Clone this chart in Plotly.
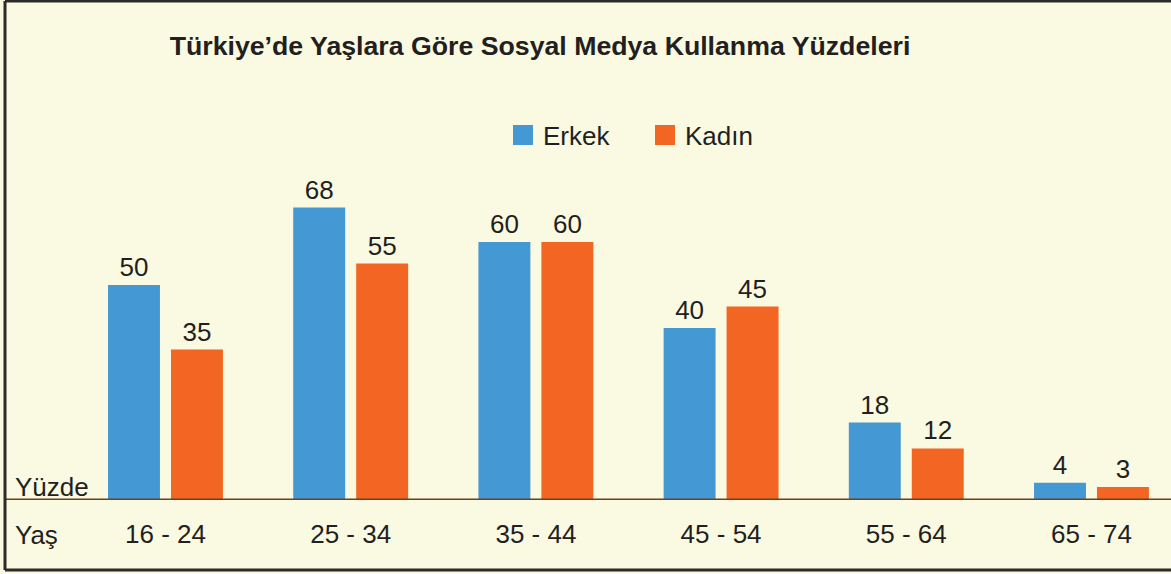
import plotly.graph_objects as go

categories = ["16 - 24", "25 - 34", "35 - 44", "45 - 54", "55 - 64", "65 - 74"]
erkek = [50, 68, 60, 40, 18, 4]
kadin = [35, 55, 60, 45, 12, 3]
series_names = ["Erkek", "Kadın"]
title_text = "Türkiye’de Yaşlara Göre Sosyal Medya Kullanma Yüzdeleri"

BLUE = "#4499D5"
ORANGE = "#F26522"
BG = "#FAF9E1"
TXT = "#231F20"
FONT = "Liberation Sans, Arial, Helvetica, sans-serif"

fig = go.Figure()
for name, vals, col in [(series_names[0], erkek, BLUE), (series_names[1], kadin, ORANGE)]:
    fig.add_trace(go.Bar(
        x=categories, y=vals, name=name, marker=dict(color=col, line=dict(width=0)),
        text=[str(v) for v in vals], textposition="outside", cliponaxis=False,
        textfont=dict(size=26, color=TXT, family=FONT),
        showlegend=False, legendgroup=name, hoverinfo="skip",
    ))
# legend entries (larger square swatches)
for name, col in [(series_names[0], BLUE), (series_names[1], ORANGE)]:
    fig.add_trace(go.Scatter(
        x=[None], y=[None], mode="markers", name=name, legendgroup=name,
        marker=dict(symbol="square", size=16, color=col, line=dict(color=col, width=4)),
    ))

W, H = 1171, 574
ml, mr, mt, mb = 10, 6, 10, 74
pw, ph = W - ml - mr, H - mt - mb

def px(x):
    return (x - ml) / pw

def py(y):
    return (H - mb - y) / ph

fig.update_layout(
    width=W, height=H,
    margin=dict(l=ml, r=mr, t=mt, b=mb),
    paper_bgcolor=BG, plot_bgcolor=BG,
    font=dict(family=FONT, color=TXT, size=26),
    barmode="group", bargap=0.32, bargroupgap=0.175,
    title=dict(text="<b>" + title_text + "</b>", x=px(540), xref="paper", xanchor="center",
               y=1 - 46 / H, yref="container", yanchor="middle",
               font=dict(size=26.7, color=TXT, family=FONT)),
    legend=dict(orientation="h", x=px(503), xanchor="left", y=py(135), yanchor="middle",
                bgcolor="rgba(0,0,0,0)", font=dict(size=26, color=TXT, family=FONT),
                entrywidth=97, itemsizing="trace"),
    xaxis=dict(type="category", range=[-0.8396, 5.397], showline=False, showgrid=False,
               zeroline=False, ticks="", ticklabelstandoff=16,
               tickfont=dict(size=26, color=TXT, family=FONT)),
    yaxis=dict(range=[0, ph / 4.3], visible=False, showgrid=False, zeroline=False),
    showlegend=True,
)

# baseline
fig.add_shape(type="line", xref="paper", yref="y", x0=px(5), x1=px(1180), y0=0, y1=0,
              line=dict(color="#6E401C", width=3), layer="above")
# frame: left, top, bottom edges (right edge lies outside the picture)
frame = dict(color="#2B2B2B", width=3)
fig.add_shape(type="line", xref="paper", yref="paper", x0=px(5), x1=px(5),
              y0=py(570), y1=py(1), line=frame, layer="above")
fig.add_shape(type="line", xref="paper", yref="paper", x0=px(5), x1=px(1180),
              y0=py(1), y1=py(1), line=frame, layer="above")
fig.add_shape(type="line", xref="paper", yref="paper", x0=px(5), x1=px(1180),
              y0=py(570), y1=py(570), line=frame, layer="above")

fig.add_annotation(text="Yüzde", xref="paper", yref="paper", x=px(13), y=py(487),
                   xanchor="left", yanchor="middle", showarrow=False,
                   font=dict(size=26, color=TXT, family=FONT))
fig.add_annotation(text="Yaş", xref="paper", yref="paper", x=px(13), y=py(535),
                   xanchor="left", yanchor="middle", showarrow=False,
                   font=dict(size=26, color=TXT, family=FONT))

fig.write_html(
    "out.html", config={"displayModeBar": False},
    post_script=("document.body.style.margin='0';"
                 "document.body.style.overflow='hidden';"
                 "document.documentElement.style.background='" + BG + "';"
                 "document.body.style.background='" + BG + "';"),
)
